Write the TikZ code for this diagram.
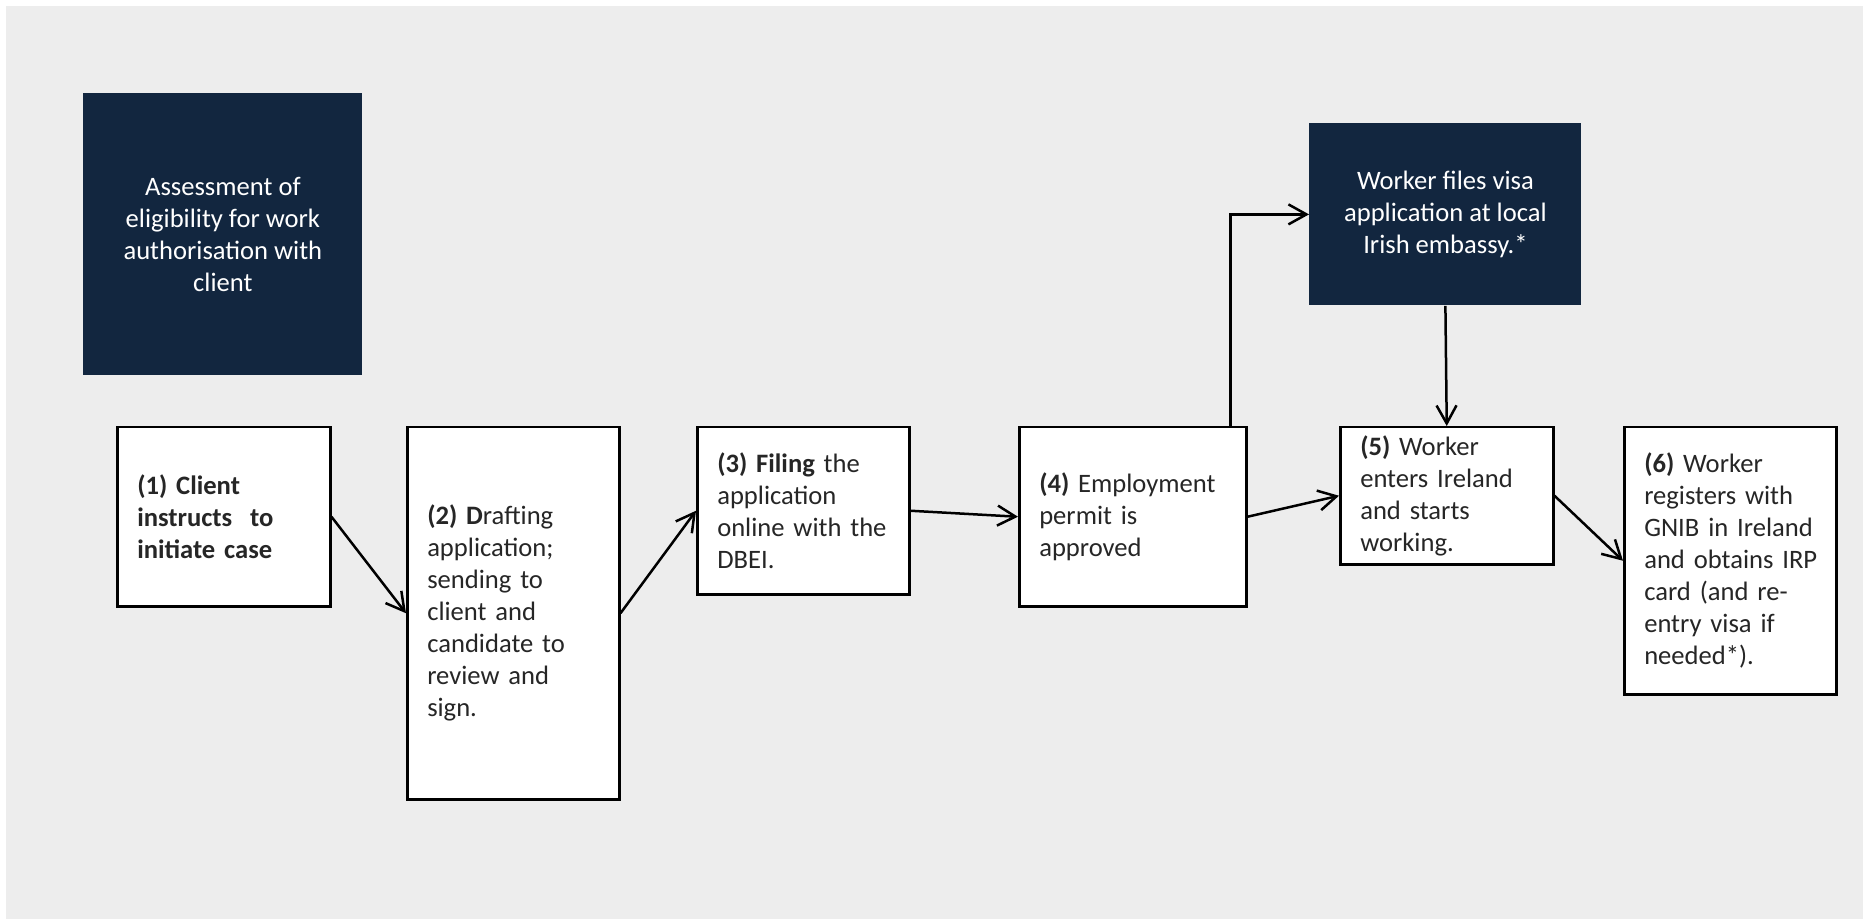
\documentclass[tikz,border=0pt]{standalone}
\usepackage{fontspec}
\setmainfont{Carlito}
\usetikzlibrary{arrows.meta,positioning}
\definecolor{navy}{HTML}{12263F}
\definecolor{slide}{HTML}{EDEDED}
\definecolor{ink}{HTML}{262626}

\begin{document}
\begin{tikzpicture}[x=0.5pt,y=-0.5pt,
    stage/.style={draw=black,fill=white,line width=1.25pt,anchor=north west,
      inner xsep=10pt,inner ysep=2pt,align=left,text=ink,
      font=\fontsize{13.3}{16}\selectfont},
    dark/.style={fill=navy,anchor=north west,align=center,text=white,
      font=\fontsize{13.3}{16}\selectfont},
    flow/.style={-{Straight Barb[length=9pt,width=10pt]},line width=1.25pt}]
    \useasboundingbox (0,0) rectangle (1863,919);
    \fill[white] (0,0) rectangle (1863,919);
    \fill[slide] (6,6) rectangle (1863,919);

    \node[dark,minimum width=139.5pt,minimum height=141pt] (assess) at (83,93)
        {Assessment of\\eligibility for work\\authorisation with\\client};
    \node[dark,minimum width=136pt,minimum height=91pt] (visa) at (1309,123)
        {Worker files visa\\application at local\\Irish embassy.*};

    \node[stage,minimum width=106.5pt,minimum height=89.5pt,text width=86.5pt] (client) at (116,426)
        {\bfseries (1) Client\\instructs~ to\\initiate case};
    \node[stage,minimum width=106pt,minimum height=186pt,text width=86pt] (draft) at (406,426)
        {\textbf{(2) D}rafting\\application;\\sending to\\client and\\candidate to\\review and\\sign.};
    \node[stage,minimum width=106pt,minimum height=83.5pt,text width=86pt] (filing) at (696,426)
        {\textbf{(3) Filing} the\\application\\online with the\\DBEI.};
    \node[stage,minimum width=113.5pt,minimum height=89.5pt,text width=93.5pt] (permit) at (1018,426)
        {\textbf{(4)} Employment\\permit is\\approved};
    \node[stage,minimum width=106.5pt,minimum height=68.5pt,text width=86.5pt] (enter) at (1339,426)
        {\textbf{(5)} Worker\\enters Ireland\\and starts\\working.};
    \node[stage,minimum width=106pt,minimum height=133.5pt,text width=86pt] (gnib) at (1623,426)
        {\textbf{(6)} Worker\\registers with\\GNIB in Ireland\\\mbox{and obtains IRP}\\card (and re-\\entry visa if\\needed*).};

    \draw[flow] (client.east) -- (draft.west);
    \draw[flow] (draft.east) -- (filing.west);
    \draw[flow] (filing.east) -- (permit.west);
    \draw[flow] (permit.east) -- (enter.west);
    \draw[flow] ([xshift=-8.5pt]permit.north east) |- (visa.west);
    \draw[flow] (visa.south) -- (enter.north);
    \draw[flow] (enter.east) -- (gnib.west);
\end{tikzpicture}
\end{document}
